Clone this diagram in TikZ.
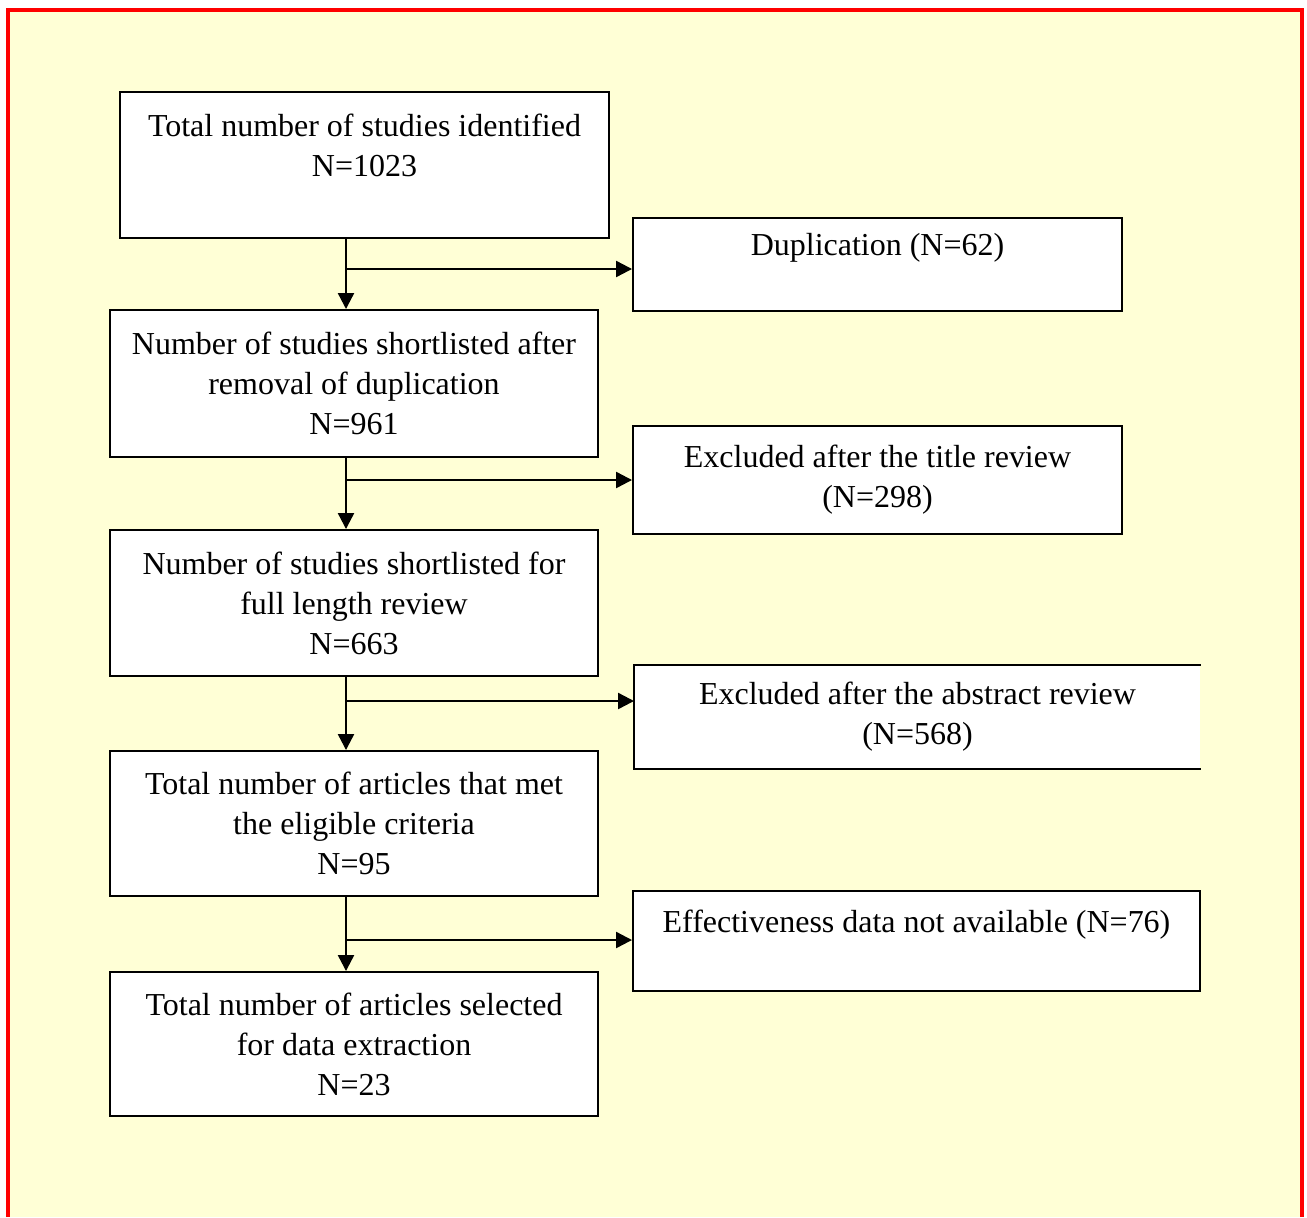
\documentclass[tikz,border=0pt]{standalone}
\usepackage{fontspec}
\setmainfont{Liberation Serif}
\usetikzlibrary{arrows.meta,positioning}
\definecolor{paleyellow}{HTML}{FFFFD6}
\definecolor{framered}{HTML}{FF0000}

\begin{document}
\begin{tikzpicture}[
    x=0.2mm, y=-0.2mm,
    every node/.style={font=\fontsize{18.2}{22.8}\selectfont},
    box/.style={rectangle, draw=black, fill=white, align=center, inner sep=0pt,
                line width=1.1pt, minimum width=97.6mm},
    arrow/.style={-{Triangle[length=3.2mm,width=3.2mm]}, line width=1.3pt}
]
    \useasboundingbox (0,0) rectangle (1307,1217);
    \fill[paleyellow] (8,10) rectangle (1302,1217);
    \draw[framered, line width=2.3pt] (8,1217) -- (8,10) -- (1302,10) -- (1302,1217);

    % main column
    \node[box, minimum width=97.8mm, minimum height=29.2mm] (identified) at (364.5,165)
        {Total number of studies identified\\N=1023\\~};
    \node[box, minimum height=29.4mm] (dedup) at (354,383.5)
        {Number of studies shortlisted after\\removal of duplication\\N=961};
    \node[box, minimum height=29.2mm] (fulltext) at (354,603)
        {Number of studies shortlisted for\\full length review\\N=663};
    \node[box, minimum height=29mm] (eligible) at (354,823.5)
        {Total number of articles that met\\the eligible criteria\\N=95};
    \node[box, minimum height=28.8mm] (selected) at (354,1044)
        {Total number of articles selected\\for data extraction\\N=23};

    % exclusions
    \node[box, minimum width=97.8mm, minimum height=18.6mm] (duplication) at (877.5,264.5)
        {Duplication (N=62)\\~};
    \node[box, minimum width=97.8mm, minimum height=21.6mm] (titlerev) at (877.5,480)
        {Excluded after the title review\\(N=298)};
    \node[box, draw=none, minimum width=113mm, minimum height=20.4mm] (abstractrev) at (917.5,717)
        {Excluded after the abstract review\\(N=568)};
    \draw[line width=1.1pt] (abstractrev.north east) -- (abstractrev.north west)
        -- (abstractrev.south west) -- (abstractrev.south east);
    \node[box, minimum width=113.4mm, minimum height=20mm] (noeffect) at (916.5,941)
        {Effectiveness data not available (N=76)\\~};

    \coordinate (spine) at (346,0);
    \coordinate (j1) at (346,269);
    \coordinate (j2) at (346,480);
    \coordinate (j3) at (346,701);
    \coordinate (j4) at (346,940);

    \draw[arrow] (identified.south -| spine) -- (dedup.north -| spine);
    \draw[arrow] (dedup.south -| spine) -- (fulltext.north -| spine);
    \draw[arrow] (fulltext.south -| spine) -- (eligible.north -| spine);
    \draw[arrow] (eligible.south -| spine) -- (selected.north -| spine);

    \draw[arrow] (j1) -- (j1 -| duplication.west);
    \draw[arrow] (j2) -- (j2 -| titlerev.west);
    \draw[arrow] (j3) -- (j3 -| abstractrev.west);
    \draw[arrow] (j4) -- (j4 -| noeffect.west);
\end{tikzpicture}
\end{document}
